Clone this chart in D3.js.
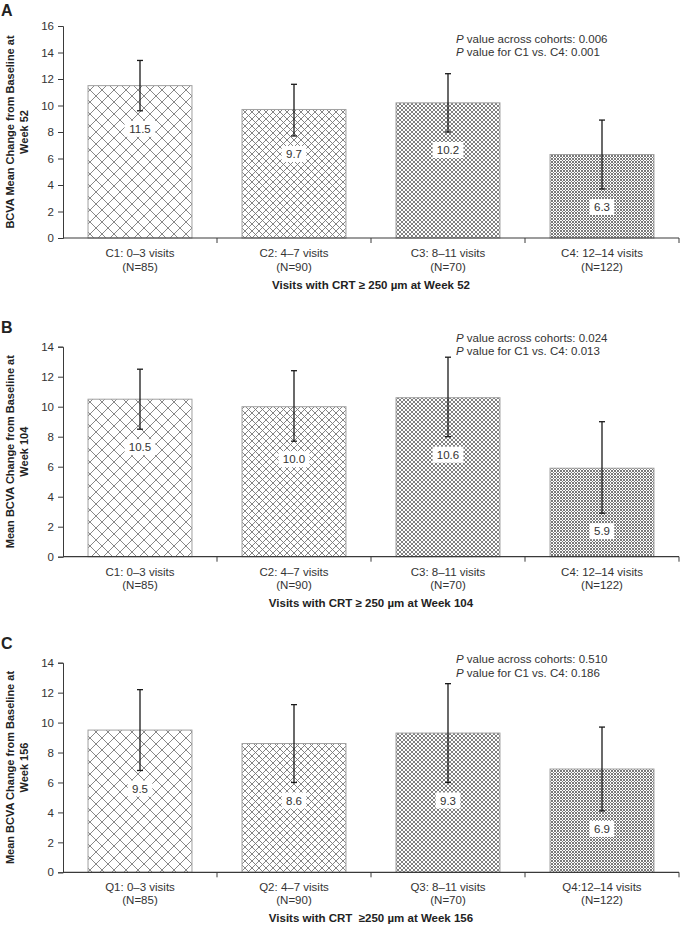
<!DOCTYPE html>
<html>
<head>
<meta charset="utf-8">
<script src="https://cdn.jsdelivr.net/npm/d3@7"></script>
<style>
  html, body { margin: 0; padding: 0; background: #fff; }
  svg { display: block; font-family: "Liberation Sans", Arial, Helvetica, sans-serif; }
</style>
</head>
<body>
<svg id="chart" width="680" height="925"></svg>
<script>
// ---------- data ----------
const categoriesC = ["C1: 0\u20133 visits", "C2: 4\u20137 visits", "C3: 8\u201311 visits", "C4: 12\u201314 visits"];
const categoriesQ = ["Q1: 0\u20133 visits", "Q2: 4\u20137 visits", "Q3: 8\u201311 visits", "Q4:12\u201314 visits"];
const nLabels = ["(N=85)", "(N=90)", "(N=70)", "(N=122)"];

const meansW52 = [11.5, 9.7, 10.2, 6.3];
const lowW52   = [9.6, 7.7, 8.0, 3.7];
const highW52  = [13.4, 11.6, 12.4, 8.9];

const meansW104 = [10.5, 10.0, 10.6, 5.9];
const lowW104   = [8.5, 7.7, 8.0, 2.9];
const highW104  = [12.5, 12.4, 13.3, 9.0];

const meansW156 = [9.5, 8.6, 9.3, 6.9];
const lowW156   = [6.8, 6.0, 6.0, 4.1];
const highW156  = [12.2, 11.2, 12.6, 9.7];

const yTicks16 = [0, 2, 4, 6, 8, 10, 12, 14, 16];
const yTicks14 = [0, 2, 4, 6, 8, 10, 12, 14];

const pAcross = ["0.006", "0.024", "0.510"];
const pC1C4   = ["0.001", "0.013", "0.186"];

const panelLetters = ["A", "B", "C"];
const yTitles = [
  ["BCVA Mean Change from Baseline at", "Week 52"],
  ["Mean BCVA Change from Baseline at", "Week 104"],
  ["Mean BCVA Change from Baseline at", "Week 156"]
];
const xTitles = [
  "Visits with CRT \u2265 250 \u00b5m at Week 52",
  "Visits with CRT \u2265 250 \u00b5m at Week 104",
  "Visits with CRT \u00a0\u2265250 \u00b5m at Week 156"
];

// ---------- layout ----------
const svg = d3.select("#chart");
const X0 = 63, X1 = 679;
const layout = [
  { top: 26,    bottom: 238,   letterY: 16,  pY: 39,    catDy: 15,   titleY: 285 },
  { top: 346.7, bottom: 556.7, letterY: 333, pY: 338,   catDy: 15,   titleY: 603 },
  { top: 662.7, bottom: 872.3, letterY: 649, pY: 659.3, catDy: 14.5, titleY: 918 }
];
const panels = [
  { cats: categoriesC, means: meansW52,  low: lowW52,  high: highW52,  ticks: yTicks16, max: 16 },
  { cats: categoriesC, means: meansW104, low: lowW104, high: highW104, ticks: yTicks14, max: 14 },
  { cats: categoriesQ, means: meansW156, low: lowW156, high: highW156, ticks: yTicks14, max: 14 }
];

// ---------- hatch patterns ----------
const defs = svg.append("defs");
const hatchSizes = [12, 7, 4, 3];
const hatchWidths = [0.9, 0.9, 1.0, 1.0];
const hatchColors = ["#7a7a7a", "#777", "#808080", "#7a7a7a"];
hatchSizes.forEach((s, i) => {
  const p = defs.append("pattern")
    .attr("id", "hatch" + i)
    .attr("patternUnits", "userSpaceOnUse")
    .attr("width", s).attr("height", s);
  p.append("rect").attr("width", s).attr("height", s).attr("fill", "#fff");
  p.append("path")
    .attr("d", `M0,0L${s},${s}M${s},0L0,${s}M${-s/2},${s/2}L${s/2},${-s/2}M${s/2},${s*1.5}L${s*1.5},${s/2}M${-s/2},${s/2}L${s/2},${s*1.5}M${s/2},${-s/2}L${s*1.5},${s/2}`)
    .attr("stroke", hatchColors[i])
    .attr("stroke-width", hatchWidths[i])
    .attr("fill", "none");
});

const axisColor = "#3a3a3a";
const textColor = "#333";

panels.forEach((pd, pi) => {
  const L = layout[pi];
  const g = svg.append("g");

  const x = d3.scaleBand().domain(pd.cats).range([X0, X1])
    .paddingInner(0.325).paddingOuter(0.1625);
  const y = d3.scaleLinear().domain([0, pd.max]).range([L.bottom, L.top]);

  // panel letter
  g.append("text").attr("x", 1).attr("y", L.letterY)
    .attr("font-size", 16).attr("font-weight", "bold").attr("fill", "#222")
    .text(panelLetters[pi]);

  // bars
  g.selectAll("rect.bar").data(pd.means).join("rect")
    .attr("class", "bar")
    .attr("x", (d, i) => x(pd.cats[i]))
    .attr("y", d => y(d))
    .attr("width", x.bandwidth())
    .attr("height", d => y(0) - y(d))
    .attr("fill", (d, i) => `url(#hatch${i})`)
    .attr("stroke", "#a0a0a0")
    .attr("stroke-width", 1);

  // error bars
  pd.means.forEach((m, i) => {
    const cx = x(pd.cats[i]) + x.bandwidth() / 2;
    const eg = g.append("g").attr("stroke", "#1a1a1a").attr("stroke-width", 1.3);
    eg.append("line").attr("x1", cx).attr("x2", cx).attr("y1", y(pd.high[i])).attr("y2", y(pd.low[i]));
    eg.append("line").attr("x1", cx - 3).attr("x2", cx + 3).attr("y1", y(pd.high[i])).attr("y2", y(pd.high[i]));
    eg.append("line").attr("x1", cx - 3).attr("x2", cx + 3).attr("y1", y(pd.low[i])).attr("y2", y(pd.low[i]));

    // value label in white box
    const ly = y(pd.low[i]) + 18;
    const label = m.toFixed(1);
    const tw = label.length * 6.2 + 6;
    g.append("rect").attr("x", cx - tw / 2).attr("y", ly - 8).attr("width", tw).attr("height", 16)
      .attr("fill", "#fff");
    g.append("text").attr("x", cx).attr("y", ly).attr("dy", "0.36em")
      .attr("text-anchor", "middle").attr("font-size", 11.5).attr("fill", textColor)
      .text(label);
  });

  // y axis
  const yAxis = d3.axisLeft(y).tickValues(pd.ticks).tickSize(5).tickPadding(4).tickFormat(d3.format("d"));
  const ya = g.append("g").attr("transform", `translate(${X0},0)`).call(yAxis);
  ya.select(".domain").attr("stroke", axisColor);
  ya.selectAll(".tick line").attr("stroke", axisColor);
  ya.selectAll(".tick text").attr("font-size", 11.5).attr("fill", textColor)
    .attr("font-family", "Liberation Sans, Arial, sans-serif");

  // x axis line with ticks at band boundaries
  g.append("line").attr("x1", X0).attr("x2", X1).attr("y1", L.bottom).attr("y2", L.bottom)
    .attr("stroke", axisColor).attr("stroke-width", 1.2);
  const step = x.step();
  d3.range(1, pd.cats.length + 1).forEach(k => {
    const bx = X0 + k * step;
    g.append("line").attr("x1", bx).attr("x2", bx).attr("y1", L.bottom).attr("y2", L.bottom + 5)
      .attr("stroke", axisColor);
  });

  // category labels
  pd.cats.forEach((c, i) => {
    const cx = x(c) + x.bandwidth() / 2;
    const t = g.append("text").attr("text-anchor", "middle").attr("font-size", 11.5).attr("fill", textColor);
    t.append("tspan").attr("x", cx).attr("y", L.bottom + L.catDy).attr("dy", "0.36em").text(c);
    t.append("tspan").attr("x", cx).attr("y", L.bottom + L.catDy + 13.5).attr("dy", "0.36em").text(nLabels[i]);
  });

  // x title
  g.append("text").attr("x", (X0 + X1) / 2).attr("y", L.titleY).attr("dy", "0.36em")
    .attr("text-anchor", "middle").attr("font-size", 11.5).attr("font-weight", "bold").attr("fill", "#222")
    .text(xTitles[pi]);

  // y title
  const mid = (L.top + L.bottom) / 2;
  const yt = g.append("text").attr("transform", `translate(0,${mid}) rotate(-90)`)
    .attr("text-anchor", "middle").attr("font-size", 11).attr("font-weight", "bold").attr("fill", "#222");
  yt.append("tspan").attr("x", 0).attr("y", 10).attr("dy", "0.36em").text(yTitles[pi][0]);
  yt.append("tspan").attr("x", 0).attr("y", 24.5).attr("dy", "0.36em").text(yTitles[pi][1]);

  // p-values
  const pt = g.append("text").attr("font-size", 11.5).attr("fill", textColor);
  const l1 = pt.append("tspan").attr("x", 456).attr("y", L.pY).attr("dy", "0.36em");
  l1.append("tspan").attr("font-style", "italic").text("P");
  l1.append("tspan").text(" value across cohorts: " + pAcross[pi]);
  const l2 = pt.append("tspan").attr("x", 456).attr("y", L.pY + 13.3).attr("dy", "0.36em");
  l2.append("tspan").attr("font-style", "italic").text("P");
  l2.append("tspan").text(" value for C1 vs. C4: " + pC1C4[pi]);
});
</script>
</body>
</html>
